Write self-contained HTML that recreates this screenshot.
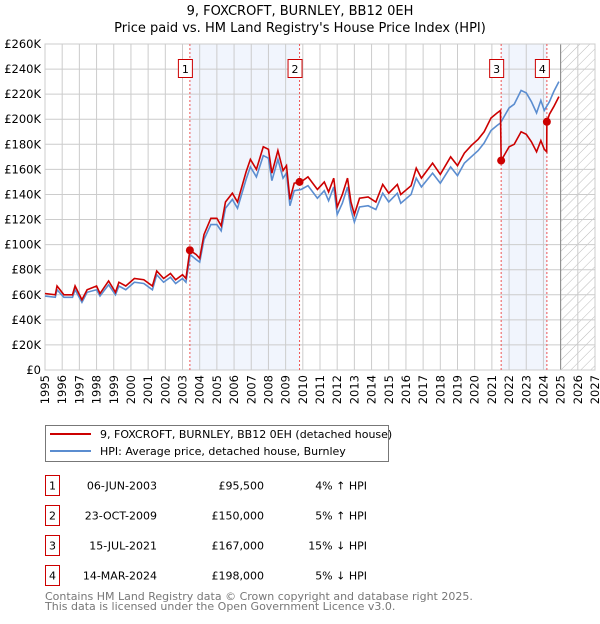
<!DOCTYPE html>
<html><head><meta charset="utf-8"><style>
body{margin:0;background:#fff;font-family:"DejaVu Sans","Liberation Sans",sans-serif;}
svg text{font-family:"DejaVu Sans","Liberation Sans",sans-serif;}
</style></head><body>
<svg id="chart" width="600" height="620" xmlns="http://www.w3.org/2000/svg">
<defs><pattern id="hatch" width="7" height="7" patternUnits="userSpaceOnUse" patternTransform="rotate(45)"><line x1="0" y1="0" x2="0" y2="7" stroke="#bbb" stroke-width="1"/></pattern></defs>
<text x="300" y="15" text-anchor="middle" font-size="13">9, FOXCROFT, BURNLEY, BB12 0EH</text>
<text x="300" y="32" text-anchor="middle" font-size="13">Price paid vs. HM Land Registry's House Price Index (HPI)</text>
<g id="plot"></g>
<rect x="45.5" y="425.5" width="343" height="36" fill="#fff" stroke="#777"/>
<line x1="50" y1="434" x2="91" y2="434" stroke="#cc0000" stroke-width="2"/>
<text x="100" y="438" font-size="11">9, FOXCROFT, BURNLEY, BB12 0EH (detached house)</text>
<line x1="50" y1="451" x2="91" y2="451" stroke="#5b8dd0" stroke-width="2"/>
<text x="100" y="455" font-size="11">HPI: Average price, detached house, Burnley</text>
<g id="table"></g>
<text x="45" y="600" font-size="11" fill="#777">Contains HM Land Registry data © Crown copyright and database right 2025.</text>
<text x="45" y="610" font-size="11" fill="#777">This data is licensed under the Open Government Licence v3.0.</text>
</svg>
<script>
const hpiYears=[1995.0,1995.6,1995.7,1996.1,1996.6,1996.75,1997.15,1997.45,1998.0,1998.2,1998.7,1999.1,1999.3,1999.7,2000.2,2000.75,2001.25,2001.5,2001.9,2002.3,2002.6,2003.0,2003.2,2003.45,2003.8,2004.0,2004.25,2004.65,2005.0,2005.25,2005.5,2005.9,2006.2,2006.7,2006.95,2007.3,2007.7,2008.0,2008.2,2008.55,2008.85,2009.05,2009.25,2009.5,2009.9,2010.3,2010.85,2011.25,2011.5,2011.8,2012.0,2012.3,2012.6,2012.8,2013.0,2013.3,2013.8,2014.25,2014.65,2015.0,2015.5,2015.7,2016.3,2016.6,2016.9,2017.55,2018.0,2018.6,2019.0,2019.4,2019.8,2020.2,2020.55,2020.95,2021.3,2021.5,2022.0,2022.3,2022.7,2023.0,2023.3,2023.6,2023.85,2024.05,2024.35,2024.6,2024.9];
const hpiValues=[59,58,64,58,58,64,54,62,64,59,68,60,67,64,70,69,64,76,70,74,69,73,70,92,88,86,104,116,116,111,129,136,129,152,162,154,171,169,151,168,153,157,131,143,144,147,137,143,135,146,124,133,146,128,118,130,131,128,141,134,141,133,140,153,146,157,149,162,155,165,170,175,181,191,195,197,209,212,223,221,214,205,215,207,214,222,230];
const priceYears=[1995.0,1995.6,1995.7,1996.1,1996.6,1996.75,1997.15,1997.45,1998.0,1998.2,1998.7,1999.1,1999.3,1999.7,2000.2,2000.75,2001.25,2001.5,2001.9,2002.3,2002.6,2003.0,2003.2,2003.43,2003.8,2004.0,2004.25,2004.65,2005.0,2005.25,2005.5,2005.9,2006.2,2006.7,2006.95,2007.3,2007.7,2008.0,2008.2,2008.55,2008.85,2009.05,2009.25,2009.5,2009.9,2010.3,2010.85,2011.25,2011.5,2011.8,2012.0,2012.3,2012.6,2012.8,2013.0,2013.3,2013.8,2014.25,2014.65,2015.0,2015.5,2015.7,2016.3,2016.6,2016.9,2017.55,2018.0,2018.6,2019.0,2019.4,2019.8,2020.2,2020.55,2020.95,2021.3,2021.5,2021.54,2022.0,2022.3,2022.7,2023.0,2023.3,2023.6,2023.85,2024.05,2024.19,2024.2,2024.35,2024.6,2024.9];
const priceValues=[61,60,67,60,60,67,56,64,67,61,71,62,70,67,73,72,67,79,73,77,72,76,73,95.5,92,89,108,121,121,115,134,141,134,158,168,160,178,176,157,175,159,163,136,149,150,154,144,150,142,153,130,140,153,134,124,137,138,134,148,141,148,140,147,161,153,165,156,170,163,173,179,184,190,201,205,207,167,178,180,190,188,182,174,183,176,174,198,204,210,218];
const saleYears=[2003.43,2009.81,2021.54,2024.2];
const saleValues=[95.5,150,167,198];
const saleLabels=["1","2","3","4"];
const saleDates=["06-JUN-2003","23-OCT-2009","15-JUL-2021","14-MAR-2024"];
const salePrices=["£95,500","£150,000","£167,000","£198,000"];
const saleDiffs=["4% ↑ HPI","5% ↑ HPI","15% ↓ HPI","5% ↓ HPI"];
const yTicks=[0,20,40,60,80,100,120,140,160,180,200,220,240,260];
const xTicks=[1995,1996,1997,1998,1999,2000,2001,2002,2003,2004,2005,2006,2007,2008,2009,2010,2011,2012,2013,2014,2015,2016,2017,2018,2019,2020,2021,2022,2023,2024,2025,2026,2027];
const X0=45,X1=595,Y0=370,Y1=44;
const xs=y=>X0+(y-1995)/(2027-1995)*(X1-X0);
const ys=v=>Y0-v/260*(Y0-Y1);
const NS="http://www.w3.org/2000/svg";
const g=document.getElementById('plot');
function mk(t,a,p){const e=document.createElementNS(NS,t);for(const k in a)e.setAttribute(k,a[k]);(p||g).appendChild(e);return e;}
// shading
const s1=mk('rect',{x:xs(saleYears[0]),y:Y1,width:xs(saleYears[1])-xs(saleYears[0]),height:Y0-Y1,fill:'#eef3fc',opacity:0.8});


const s2=mk('rect',{x:xs(saleYears[2]),y:Y1,width:xs(saleYears[3])-xs(saleYears[2]),height:Y0-Y1,fill:'#eef3fc',opacity:0.8});


const hf=mk('rect',{x:xs(2025),y:Y1,width:X1-xs(2025),height:Y0-Y1,fill:'url(#hatch)'});


// grid
yTicks.forEach(v=>{
 const l=mk('line',{x1:X0,x2:X1,y1:ys(v),y2:ys(v),stroke:'#ccc','stroke-width':1});
 
 
 const t=mk('text',{x:X0-4,y:ys(v)+4,'text-anchor':'end','font-size':11.5});
 
 
 t.textContent=v===0?'£0':'£'+v+'K';
});
xTicks.forEach(y=>{
 const l=mk('line',{x1:xs(y),x2:xs(y),y1:Y1,y2:Y0,stroke:'#ccc','stroke-width':1});
 
 
 const t=mk('text',{x:0,y:0,'text-anchor':'end','font-size':11.5,transform:`translate(${xs(y)+4},${Y0+5}) rotate(-90)`});
 
 
 t.textContent=y;
});
const fl=mk('line',{x1:xs(2025),x2:xs(2025),y1:Y1,y2:Y0,stroke:'#888','stroke-width':1});


const fr=mk('rect',{x:X0,y:Y1,width:X1-X0,height:Y0-Y1,fill:'none',stroke:'#ccc'});


// sale lines
saleYears.forEach((y,i)=>{
 const l=mk('line',{x1:xs(y),x2:xs(y),y1:Y1,y2:Y0,stroke:'#e55','stroke-width':1,'stroke-dasharray':'2,2'});
 
 
});
// series
const hp=mk('polyline',{points:hpiYears.map((y,i)=>xs(y)+','+ys(hpiValues[i])).join(' '),fill:'none',stroke:'#5b8dd0','stroke-width':1.6});


const pp=mk('polyline',{points:priceYears.map((y,i)=>xs(y)+','+ys(priceValues[i])).join(' '),fill:'none',stroke:'#cc0000','stroke-width':1.6});


saleYears.forEach((y,i)=>{
 const c=mk('circle',{cx:xs(y),cy:ys(saleValues[i]),r:4,fill:'#cc0000'});
 
 
 const b=mk('rect',{x:xs(y)-11.5,y:59.5,width:14,height:18,fill:'#fff',stroke:'#cc0000'});
 
 
 const t=mk('text',{x:xs(y)-4.5,y:73,'text-anchor':'middle','font-size':11});
 
 
 t.textContent=saleLabels[i];
});
// table
const tb=document.getElementById('table');
saleLabels.forEach((s,i)=>{
 const y0=475.5+i*30;
 const b=mk('rect',{x:45.5,y:y0,width:14,height:20,fill:'#fff',stroke:'#cc0000'},tb);
 
 
 const t=mk('text',{x:52.5,y:y0+14,'text-anchor':'middle','font-size':11},tb);
 
 
 t.textContent=s;
 const d=mk('text',{x:157,y:y0+14,'text-anchor':'end','font-size':11},tb);
 
 
 d.textContent=saleDates[i];
 const p=mk('text',{x:264,y:y0+14,'text-anchor':'end','font-size':11},tb);
 
 
 p.textContent=salePrices[i];
 const h=mk('text',{x:367,y:y0+14,'text-anchor':'end','font-size':11},tb);
 
 
 h.textContent=saleDiffs[i];
});
</script>
</body></html>
